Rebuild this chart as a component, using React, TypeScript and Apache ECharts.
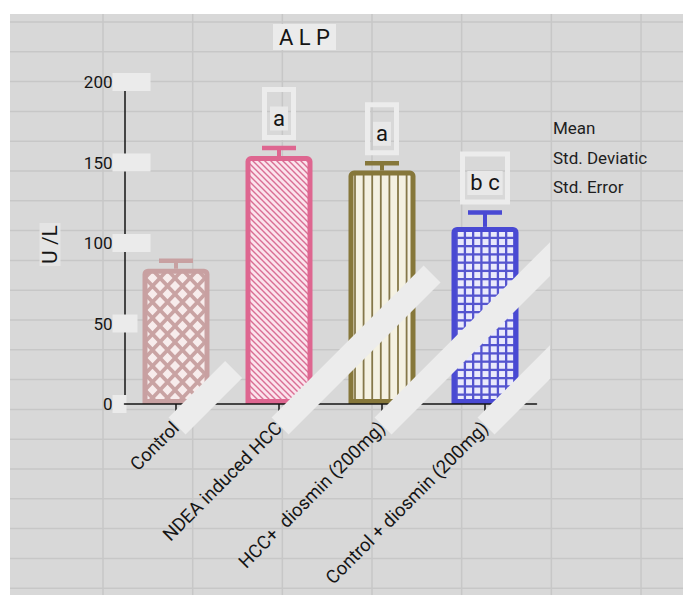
import React, { useEffect, useRef } from 'react';
import * as echarts from 'echarts';

// ---- data ----
const categories = ['Control', 'NDEA induced HCC', 'HCC+  diosmin (200mg)', 'Control + diosmin (200mg)'];
const meanValues = [84, 154, 145, 110];
const stdErrors = [5, 5, 4.5, 9];
const sigLetters = ['', 'a', 'a', 'b c'];
const yTicks = [0, 50, 100, 150, 200];
const statLines = ['Mean', 'Std. Deviatic', 'Std. Error'];

// ---- styling ----
const FONT = 'Roboto, "Noto Sans", sans-serif';
const INK = '#151515';
const BG = '#d8d8d8';
const PANEL = '#ebebeb';
const GRIDLINE = '#c7c7c7';
const outlineColors = ['#c8a0a1', '#de6690', '#86773a', '#4949d3'];
const tickBoxWidths = [14, 25, 38, 38, 38];
const stripeLengths = [80, 215, 320, 320];

type Ctx = CanvasRenderingContext2D;

function makeTile(w: number, h: number, draw: (ctx: Ctx) => void) {
  const c = document.createElement('canvas');
  c.width = w;
  c.height = h;
  const ctx = c.getContext('2d') as Ctx;
  draw(ctx);
  return { image: c, repeat: 'repeat', imageWidth: w, imageHeight: h };
}

function buildPatterns() {
  // diamond lattice
  const diamonds = makeTile(15, 16, (ctx) => {
    ctx.fillStyle = '#c9a3a3';
    ctx.fillRect(0, 0, 15, 16);
    ctx.fillStyle = '#f7ecec';
    const d = (cx: number, cy: number) => {
      ctx.beginPath();
      ctx.moveTo(cx, cy - 5.2);
      ctx.lineTo(cx + 5, cy);
      ctx.lineTo(cx, cy + 5.2);
      ctx.lineTo(cx - 5, cy);
      ctx.closePath();
      ctx.fill();
    };
    d(7.5, 8);
    d(0, 0);
    d(15, 0);
    d(0, 16);
    d(15, 16);
  });
  // back-diagonal hatching
  const hatch = makeTile(6, 6, (ctx) => {
    ctx.fillStyle = '#fbe3ec';
    ctx.fillRect(0, 0, 6, 6);
    ctx.strokeStyle = '#d96e94';
    ctx.lineWidth = 1.4;
    ctx.beginPath();
    for (const k of [-6, 0, 6]) {
      ctx.moveTo(k - 1, -1);
      ctx.lineTo(k + 7, 7);
    }
    ctx.stroke();
  });
  // vertical stripes
  const vertical = makeTile(43, 4, (ctx) => {
    ctx.fillStyle = '#f4f1e2';
    ctx.fillRect(0, 0, 43, 4);
    ctx.fillStyle = '#85784a';
    for (let j = 0; j < 5; j++) ctx.fillRect(1 + 8.6 * j - 0.9, 0, 1.8, 4);
  });
  // square grid
  const squares = makeTile(33, 33, (ctx) => {
    ctx.fillStyle = '#5555cf';
    ctx.fillRect(0, 0, 33, 33);
    ctx.fillStyle = '#eaeafb';
    for (let i = 0; i < 4; i++) {
      for (let j = 0; j < 4; j++) ctx.fillRect(8.25 * i + 2.3, 8.25 * j + 2.3, 5.95, 5.95);
    }
  });
  return [diamonds, hatch, vertical, squares];
}

function clipToX(pts: number[][], maxX: number) {
  const out: number[][] = [];
  for (let k = 0; k < pts.length; k++) {
    const a = pts[k];
    const b = pts[(k + 1) % pts.length];
    const aIn = a[0] <= maxX;
    const bIn = b[0] <= maxX;
    if (aIn) out.push(a);
    if (aIn !== bIn) {
      const t = (maxX - a[0]) / (b[0] - a[0]);
      out.push([maxX, a[1] + t * (b[1] - a[1])]);
    }
  }
  return out;
}

export default function App() {
  const ref = useRef<HTMLDivElement>(null);

  useEffect(() => {
    const el = ref.current;
    if (!el) return;
    const chart = echarts.init(el, null, { renderer: 'svg' });
    const fills = buildPatterns();

    const boxRich: Record<string, object> = {};
    tickBoxWidths.forEach((w) => {
      boxRich['w' + w] = { width: w, height: 18, backgroundColor: PANEL, fontSize: 10 };
    });

    const option: any = {
      animation: false,
      backgroundColor: BG,
      title: {
        text: 'A L P',
        left: 263,
        top: 10,
        padding: [2, 6],
        backgroundColor: PANEL,
        textStyle: { fontSize: 22, fontWeight: 'normal', color: INK, fontFamily: FONT, lineHeight: 22 },
      },
      grid: { left: 114.5, top: 68, width: 412, height: 322, containLabel: false, outerBoundsMode: 'none' },
      xAxis: {
        type: 'category',
        data: categories,
        z: 3,
        axisLine: { show: true, lineStyle: { color: INK, width: 1.5 } },
        axisTick: { show: true, alignWithLabel: true, length: 8, lineStyle: { color: INK, width: 1.5 } },
        axisLabel: { rotate: 45, interval: 0, margin: 21, fontSize: 18.5, fontFamily: FONT, color: INK },
        splitLine: { show: false },
      },
      yAxis: [
        {
          type: 'value',
          min: yTicks[0],
          max: yTicks[yTicks.length - 1],
          interval: yTicks[1] - yTicks[0],
          axisLine: { show: true, lineStyle: { color: INK, width: 1.5 } },
          axisTick: { show: false },
          splitLine: { show: false },
          axisLabel: { color: INK, fontSize: 17, fontFamily: FONT, margin: 12 },
        },
        {
          type: 'value',
          position: 'left',
          z: 1,
          min: yTicks[0],
          max: yTicks[yTicks.length - 1],
          interval: yTicks[1] - yTicks[0],
          axisLine: { show: false },
          axisTick: { show: false },
          splitLine: { show: false },
          axisLabel: {
            align: 'left',
            margin: 12,
            formatter: (v: number) => `{w${tickBoxWidths[yTicks.indexOf(v)] ?? 38}| }`,
            rich: boxRich,
          },
        },
      ],
      series: [
        {
          type: 'bar',
          barWidth: 67,
          z: 2,
          data: meanValues.map((v, i) => ({
            value: v,
            itemStyle: {
              color: fills[i],
              borderColor: outlineColors[i],
              borderWidth: 5,
              borderRadius: [3, 3, 0, 0],
            },
          })),
        },
        {
          type: 'custom',
          z: 4,
          data: meanValues.map((m, i) => [i, m, stdErrors[i]]),
          renderItem: (_params: any, api: any) => {
            const i = api.value(0);
            const m = api.value(1);
            const e = api.value(2);
            const [x, yMean] = api.coord([i, m]);
            const [, yTop] = api.coord([i, m + e]);
            const c = outlineColors[i];
            const children: any[] = [
              { type: 'line', shape: { x1: x, y1: yMean, x2: x, y2: yTop }, style: { stroke: c, lineWidth: 4 } },
              { type: 'line', shape: { x1: x - 17, y1: yTop, x2: x + 17, y2: yTop }, style: { stroke: c, lineWidth: 4.5 } },
            ];
            const letters = sigLetters[i];
            if (letters) {
              const fw = 26 + 8 * letters.length;
              const fb = yTop - 8;
              children.push({
                type: 'rect',
                shape: { x: x - fw / 2 + 2.5, y: fb - 53 + 2.5, width: fw - 5, height: 48 },
                style: { fill: 'none', stroke: '#ececec', lineWidth: 5 },
              });
              children.push({
                type: 'text',
                x,
                y: fb - 21.5,
                style: {
                  text: letters,
                  align: 'center',
                  verticalAlign: 'middle',
                  fontSize: 22,
                  fontFamily: FONT,
                  fill: INK,
                  backgroundColor: '#e8e8e8',
                  padding: [1, 3],
                },
              });
            }
            return { type: 'group', children };
          },
        },
      ],
    };

    chart.setOption(option);

    // decorative overlay: background grid, side texts, diagonal light bands
    const W = 673;
    const H = 581;
    const elements: any[] = [];
    for (let k = 0; k < 7; k++) {
      const x = 93 + 89.67 * k;
      elements.push({ type: 'line', z: -1, silent: true, shape: { x1: x, y1: 0, x2: x, y2: H }, style: { stroke: GRIDLINE, lineWidth: 1.5 } });
    }
    for (let k = 0; k < 20; k++) {
      const y = 8 + 29.8 * k;
      elements.push({ type: 'line', z: -1, silent: true, shape: { x1: 0, y1: y, x2: W, y2: y }, style: { stroke: GRIDLINE, lineWidth: 1.5 } });
    }

    elements.push({
      type: 'text',
      z: 5,
      x: 40,
      y: 230.5,
      rotation: Math.PI / 2,
      style: {
        text: 'U /L',
        align: 'center',
        verticalAlign: 'middle',
        fontSize: 21,
        fontFamily: FONT,
        fill: INK,
        backgroundColor: '#e4e4e4',
        padding: [0, 2],
      },
    });

    statLines.forEach((t, k) => {
      elements.push({
        type: 'text',
        z: 5,
        x: 543,
        y: 114 + 29.5 * k,
        style: { text: t, align: 'left', verticalAlign: 'middle', fontSize: 17, fontFamily: FONT, fill: '#1e1e1e' },
      });
    });

    const axisY = chart.convertToPixel({ yAxisIndex: 0 }, 0) as number;
    const r = Math.SQRT1_2;
    const half = 12;
    categories.forEach((_, i) => {
      const tx = chart.convertToPixel({ xAxisIndex: 0 }, i) as number;
      const sx = tx + 1.5 * r;
      const sy = axisY + 21 + 1.5 * r;
      const L = stripeLengths[i];
      const ex = sx + L * r;
      const ey = sy - L * r;
      const pts = [
        [sx + half * r, sy + half * r],
        [ex + half * r, ey + half * r],
        [ex - half * r, ey - half * r],
        [sx - half * r, sy - half * r],
      ];
      elements.push({
        type: 'polygon',
        z: 10,
        silent: true,
        shape: { points: clipToX(pts, 540) },
        style: { fill: '#ececec' },
      });
    });

    chart.setOption({ graphic: { elements } });

    return () => chart.dispose();
  }, []);

  return (
    <div style={{ position: 'fixed', left: 0, top: 0, width: 683, height: 595, background: '#ffffff' }}>
      <div ref={ref} style={{ position: 'absolute', left: 10, top: 14, width: 673, height: 581 }} />
    </div>
  );
}
